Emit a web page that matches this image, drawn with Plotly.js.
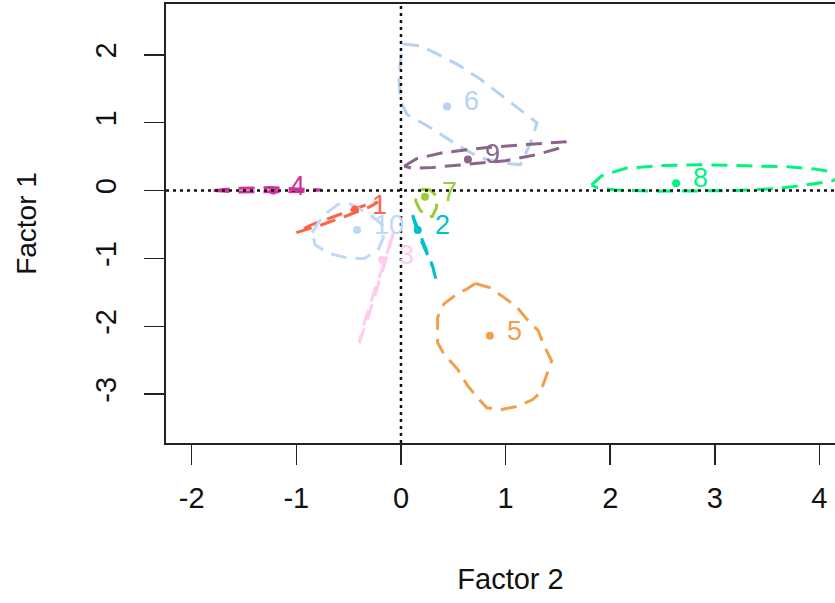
<!DOCTYPE html>
<html>
<head>
<meta charset="utf-8">
<script src="https://cdn.plot.ly/plotly-3.0.1.min.js"></script>
<style>
html,body{margin:0;padding:0;overflow:hidden;background:#fff;}
#chart{width:880px;height:603px;}
</style>
</head>
<body>
<div id="chart"></div>
<script>
// ---- data ----
const groups = ['1','2','3','4','5','6','7','8','9','10'];
const colors = ['#FF6347','#00C1CA','#FFCCEE','#CC3399','#F0A04B','#B6D2F2','#9ACD32','#00F57F','#8B668B','#BCD9F7'];
const centX = [-0.44, 0.16, -0.18, -1.22, 0.85, 0.44, 0.23, 2.63, 0.64, -0.42];
const centY = [-0.28, -0.58, -1.02, 0.00, -2.14, 1.24, -0.09, 0.11, 0.46, -0.58];

const ellX = [
  [-1.00,-0.75,-0.50,-0.30,-0.22,-0.35,-0.60,-0.85,-1.00],
  [0.11,0.16,0.24,0.30,0.34,0.31,0.24,0.16,0.11],
  [-0.40,-0.30,-0.20,-0.12,-0.07,-0.10,-0.18,-0.28,-0.37,-0.40],
  [-1.79,-1.55,-1.25,-0.95,-0.76,-0.95,-1.25,-1.55,-1.79],
  [0.71,0.85,0.98,1.11,1.20,1.31,1.37,1.44,1.39,1.33,1.26,1.11,0.95,0.82,0.73,0.63,0.54,0.41,0.35,0.35,0.41,0.54,0.63,0.71],
  [0.02,0.19,0.35,0.54,0.76,1.01,1.20,1.30,1.26,1.23,1.14,1.01,0.76,0.54,0.28,0.06,0.00,-0.02,0.00,0.02],
  [0.20,0.28,0.34,0.34,0.30,0.24,0.18,0.14,0.15,0.20],
  [1.82,1.92,2.15,2.50,2.90,3.30,3.70,3.95,4.15,4.20,4.12,3.95,3.60,3.20,2.80,2.40,2.05,1.88,1.82],
  [0.03,0.15,0.40,0.80,1.20,1.58,1.50,1.30,1.00,0.60,0.30,0.10,0.03],
  [-0.85,-0.75,-0.60,-0.48,-0.30,-0.18,-0.17,-0.22,-0.35,-0.50,-0.70,-0.82,-0.85]
];
const ellY = [
  [-0.62,-0.50,-0.36,-0.24,-0.17,-0.22,-0.36,-0.50,-0.62],
  [-0.36,-0.55,-0.85,-1.10,-1.35,-1.15,-0.90,-0.62,-0.36],
  [-2.25,-1.80,-1.30,-0.90,-0.60,-0.75,-1.15,-1.60,-2.05,-2.25],
  [0.00,0.035,0.045,0.03,0.01,-0.015,-0.02,-0.02,0.00],
  [-1.37,-1.43,-1.57,-1.72,-1.89,-2.06,-2.29,-2.51,-2.73,-2.98,-3.08,-3.18,-3.23,-3.20,-3.05,-2.86,-2.63,-2.41,-2.24,-1.87,-1.67,-1.52,-1.45,-1.37],
  [2.16,2.13,2.01,1.86,1.64,1.34,1.12,1.00,0.80,0.67,0.38,0.40,0.48,0.67,0.93,1.12,1.30,1.64,1.98,2.16],
  [0.02,0.01,-0.08,-0.25,-0.38,-0.38,-0.28,-0.15,-0.04,0.02],
  [0.08,0.22,0.33,0.37,0.38,0.37,0.35,0.32,0.27,0.20,0.14,0.10,0.03,0.00,-0.01,-0.01,0.01,0.04,0.08],
  [0.36,0.47,0.56,0.63,0.68,0.72,0.62,0.53,0.44,0.38,0.34,0.33,0.36],
  [-0.62,-0.38,-0.20,-0.20,-0.35,-0.50,-0.70,-0.88,-1.00,-1.00,-0.92,-0.80,-0.62]
];
const xTicks = [-2,-1,0,1,2,3,4];
const yTicks = [-3,-2,-1,0,1,2];
const xLabel = 'Factor 2';
const yLabel = 'Factor 1';

// ---- build traces ----
const FONT = '"Liberation Sans",Arial,sans-serif';
const traces = [];
const annotations = [];
groups.forEach((g,i)=>{
  traces.push({
    type:'scatter', mode:'lines', x: ellX[i], y: ellY[i],
    line:{color:colors[i], width:3, dash:'16px,9px'},
    hoverinfo:'skip', showlegend:false
  });
});
groups.forEach((g,i)=>{
  traces.push({
    type:'scatter', mode:'markers', x:[centX[i]], y:[centY[i]],
    marker:{color:colors[i], size:8, line:{width:0}},
    showlegend:false, name:g
  });
  annotations.push({
    x:centX[i], y:centY[i], xref:'x', yref:'y', text:g, showarrow:false,
    xanchor:'left', yanchor:'middle', xshift:15, yshift:5,
    font:{family:FONT, size:27, color:colors[i]}
  });
});

const layout = {
  width:880, height:603,
  margin:{l:166, r:25, t:4, b:160},
  paper_bgcolor:'#fff', plot_bgcolor:'#fff',
  showlegend:false,
  xaxis:{
    range:[-2.246,4.34], tickvals:xTicks, ticktext:xTicks.map(String),
    ticks:'outside', ticklen:20, tickwidth:1.5, tickcolor:'#222',
    showline:true, linewidth:2, linecolor:'#222', mirror:true,
    showgrid:false, zeroline:false,
    tickfont:{family:FONT, size:29, color:'#111'}, ticklabelstandoff:8,
    title:{text:xLabel, font:{family:FONT, size:29, color:'#111'}, standoff:56}
  },
  yaxis:{
    range:[-3.72,2.75], tickvals:yTicks, ticktext:yTicks.map(String),
    tickangle:-90,
    ticks:'outside', ticklen:20, tickwidth:1.5, tickcolor:'#222',
    showline:true, linewidth:2, linecolor:'#222', mirror:true,
    showgrid:false, zeroline:false,
    tickfont:{family:FONT, size:29, color:'#111'}, ticklabelstandoff:16,
    title:{text:yLabel, font:{family:FONT, size:28, color:'#111'}, standoff:46}
  },
  shapes:[
    {type:'line', xref:'x', yref:'paper', x0:0, x1:0, y0:0, y1:1, line:{color:'#111', width:2.5, dash:'3px,4px'}, layer:'above'},
    {type:'line', xref:'paper', yref:'y', x0:0, x1:1, y0:0, y1:0, line:{color:'#111', width:2.5, dash:'3px,4px'}, layer:'above'}
  ],
  annotations: annotations
};

Plotly.newPlot('chart', traces, layout, {staticPlot:true, displayModeBar:false});
</script>
</body>
</html>
